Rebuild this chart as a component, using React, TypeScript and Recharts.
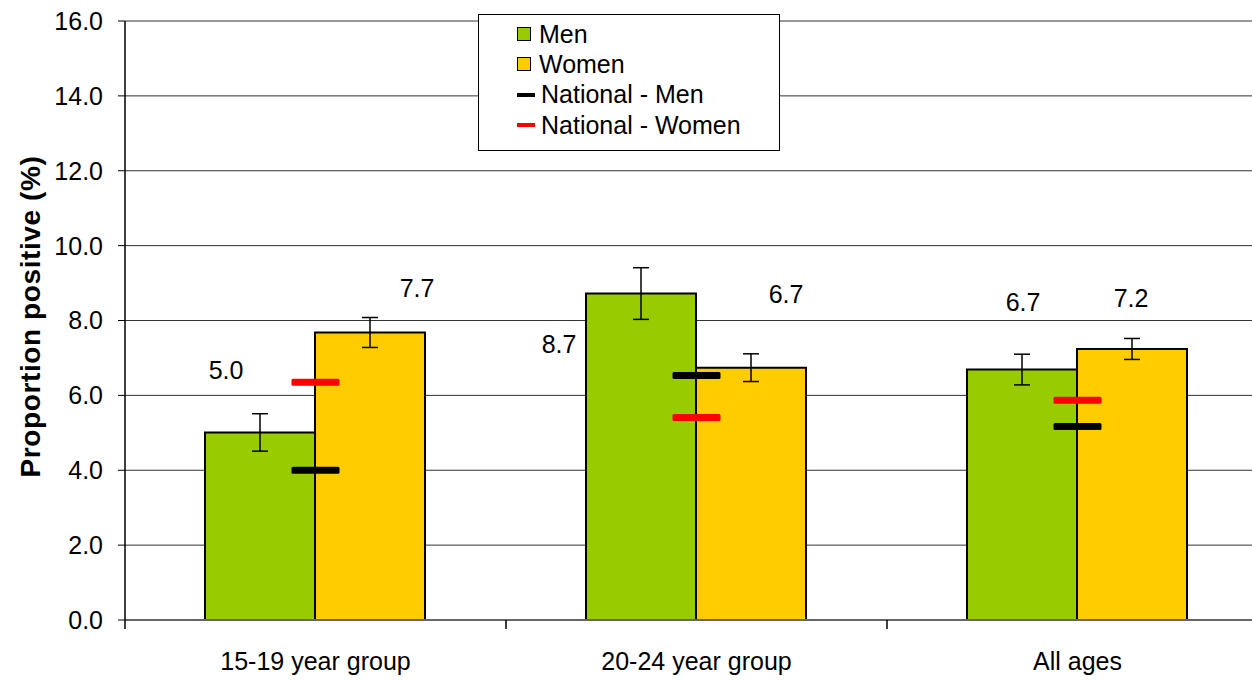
import {
  ComposedChart,
  Bar,
  Scatter,
  XAxis,
  YAxis,
  CartesianGrid,
  ErrorBar,
  LabelList,
} from 'recharts'

const CATEGORIES = ['15-19 year group', '20-24 year group', 'All ages']
const MEN = [5.01, 8.72, 6.69]
const WOMEN = [7.68, 6.74, 7.24]
const MEN_ERR = [0.5, 0.69, 0.41]
const WOMEN_ERR = [0.4, 0.37, 0.28]
const NATIONAL_MEN = [4.0, 6.53, 5.17]
const NATIONAL_WOMEN = [6.35, 5.41, 5.87]
const Y_TICKS = [0, 2, 4, 6, 8, 10, 12, 14, 16]

const GREEN = '#99cc00'
const YELLOW = '#ffcc00'
const FONT = '"Liberation Sans", Arial, sans-serif'
const X_TICK_MARGIN = 32

// hand-placed data labels, relative to the top centre of each bar
const MEN_LABEL_SHIFT = [[-34, -62], [-82, 50], [1, -68]]
const WOMEN_LABEL_SHIFT = [[47, -44], [35, -74], [-1, -51]]

const LEGEND = [
  { name: 'Men', color: GREEN, kind: 'box' },
  { name: 'Women', color: YELLOW, kind: 'box' },
  { name: 'National - Men', color: '#000000', kind: 'line' },
  { name: 'National - Women', color: '#ff0000', kind: 'line' },
]

const data = CATEGORIES.map((name, i) => ({
  name,
  men: MEN[i],
  women: WOMEN[i],
  menErr: MEN_ERR[i],
  womenErr: WOMEN_ERR[i],
  natMen: NATIONAL_MEN[i],
  natWomen: NATIONAL_WOMEN[i],
}))

function barLabel(shifts: number[][]) {
  return (props: any) => {
    const { x, y, width, value, index } = props
    const [dx, dy] = shifts[index] || [0, -20]
    return (
      <text
        x={Number(x) + Number(width) / 2 + dx}
        y={Number(y) + dy + 9}
        textAnchor="middle"
        fontSize={25}
        fontFamily={FONT}
        fill="#000"
      >
        {Number(value).toFixed(1)}
      </text>
    )
  }
}

function marker(color: string) {
  return (props: any) => (
    <rect
      x={props.cx - 24}
      y={props.cy - 3.5}
      width={48}
      height={7}
      rx={1.5}
      fill={color}
    />
  )
}

// category label plus tick marks on the band edges (Excel style)
function CategoryTick(props: any) {
  const { x, y, payload, index } = props
  const half = payload?.offset ?? 0
  const axisY = y - X_TICK_MARGIN
  return (
    <g>
      <line x1={x - half} y1={axisY} x2={x - half} y2={axisY + 9} stroke="#000" strokeWidth={1.5} />
      {index === CATEGORIES.length - 1 && (
        <line x1={x + half} y1={axisY} x2={x + half} y2={axisY + 9} stroke="#000" strokeWidth={1.5} />
      )}
      <text x={x} y={y} dy="0.71em" textAnchor="middle" fontSize={25} fontFamily={FONT} fill="#000">
        {payload.value}
      </text>
    </g>
  )
}

function ChartLegend() {
  return (
    <div
      style={{
        position: 'absolute',
        left: 478,
        top: 14,
        width: 302,
        height: 137,
        border: '1.5px solid #000',
        background: '#fff',
        fontFamily: FONT,
        fontSize: 25,
        color: '#000',
        boxSizing: 'border-box',
        paddingTop: 4,
      }}
    >
      {LEGEND.map((item) => (
        <div
          key={item.name}
          style={{ height: 30.3, display: 'flex', alignItems: 'center', paddingLeft: 38 }}
        >
          {item.kind === 'box' ? (
            <span
              style={{
                display: 'inline-block',
                width: 12,
                height: 12,
                background: item.color,
                border: '1.5px solid #000',
                marginRight: 8,
              }}
            />
          ) : (
            <span
              style={{
                display: 'inline-block',
                width: 18,
                height: 4,
                background: item.color,
                marginRight: 6,
              }}
            />
          )}
          <span>{item.name}</span>
        </div>
      ))}
    </div>
  )
}

export default function App() {
  return (
    <div
      style={{
        position: 'absolute',
        left: 0,
        top: 0,
        width: 1252,
        height: 680,
        overflow: 'hidden',
        background: '#fff',
      }}
    >
      <ComposedChart
        width={1280}
        height={680}
        data={data}
        margin={{ top: 21, right: 12, bottom: 0, left: 0 }}
        barCategoryGap="21%"
        barGap={0}
      >
        <CartesianGrid vertical={false} stroke="#333" />
        <XAxis
          dataKey="name"
          height={60}
          interval={0}
          tickLine={false}
          tickSize={0}
          tickMargin={X_TICK_MARGIN}
          axisLine={{ stroke: '#666', strokeWidth: 2 }}
          tick={<CategoryTick />}
        />
        <YAxis
          width={125}
          domain={[0, 16]}
          ticks={Y_TICKS}
          interval={0}
          tickSize={7}
          tickMargin={15}
          tickFormatter={(v) => Number(v).toFixed(1)}
          axisLine={{ stroke: '#000', strokeWidth: 1.5 }}
          tickLine={{ stroke: '#000' }}
          tick={{ fontSize: 25, fontFamily: FONT, fill: '#000' }}
          label={(props: any) => {
            const vb = props.viewBox || { y: 21, height: 599 }
            const cy = vb.y + vb.height / 2 - 4
            return (
              <text
                x={30}
                y={cy}
                transform={`rotate(-90, 30, ${cy})`}
                textAnchor="middle"
                dominantBaseline="central"
                fontSize={28}
                fontWeight="bold"
                letterSpacing={0.6}
                fontFamily={FONT}
                fill="#000"
              >
                Proportion positive (%)
              </text>
            )
          }}
        />
        <Bar
          dataKey="men"
          name="Men"
          fill={GREEN}
          stroke="#000"
          strokeWidth={2}
          isAnimationActive={false}
        >
          <ErrorBar dataKey="menErr" width={8} stroke="#000" strokeWidth={1.5} direction="y" />
          <LabelList dataKey="men" content={barLabel(MEN_LABEL_SHIFT)} />
        </Bar>
        <Bar
          dataKey="women"
          name="Women"
          fill={YELLOW}
          stroke="#000"
          strokeWidth={2}
          isAnimationActive={false}
        >
          <ErrorBar dataKey="womenErr" width={8} stroke="#000" strokeWidth={1.5} direction="y" />
          <LabelList dataKey="women" content={barLabel(WOMEN_LABEL_SHIFT)} />
        </Bar>
        <Scatter
          dataKey="natMen"
          name="National - Men"
          shape={marker('#000000')}
          isAnimationActive={false}
        />
        <Scatter
          dataKey="natWomen"
          name="National - Women"
          shape={marker('#ff0000')}
          isAnimationActive={false}
        />
      </ComposedChart>
      <ChartLegend />
    </div>
  )
}
